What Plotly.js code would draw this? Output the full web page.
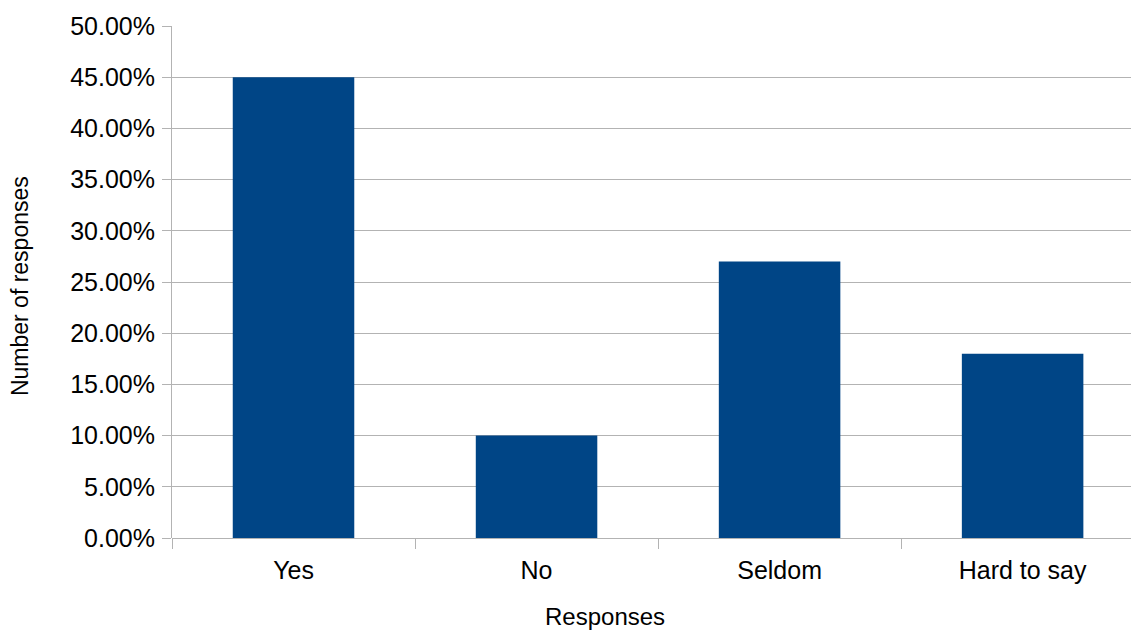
<!DOCTYPE html>
<html>
<head>
<meta charset="utf-8">
<script src="https://cdn.plot.ly/plotly-3.0.1.min.js"></script>
<style>
  html, body { margin: 0; padding: 0; background: #fff; }
  #chart { width: 1131px; height: 630px; }
</style>
</head>
<body>
<div id="chart"></div>
<script>
// Survey answers and their share of all responses
const categories = ["Yes", "No", "Seldom", "Hard to say"];
const shares = [0.45, 0.10, 0.27, 0.18];

// Axis titles
const xTitle = "Responses";
const yTitle = "Number of responses";

const gridGray = "#b3b3b3";
const fontFamily = "Liberation Sans, Arial, sans-serif";

const trace = {
  type: "bar",
  x: categories,
  y: shares,
  marker: { color: "#004586" },
  width: 0.5,
  hoverinfo: "x+y"
};

const layout = {
  width: 1131,
  height: 630,
  margin: { l: 172, r: 0, t: 26, b: 92 },
  paper_bgcolor: "#ffffff",
  plot_bgcolor: "#ffffff",
  showlegend: false,
  font: { family: fontFamily, color: "#000000", size: 25 },
  xaxis: {
    type: "category",
    range: [-0.5, 3.446],
    showgrid: false,
    showline: false,
    zeroline: false,
    ticks: "outside",
    tickson: "boundaries",
    ticklen: 10,
    tickcolor: gridGray,
    tickwidth: 1,
    ticklabelstandoff: 15,
    tickfont: { family: fontFamily, size: 25, color: "#000" }
  },
  yaxis: {
    range: [0, 0.5],
    dtick: 0.05,
    tickformat: ".2%",
    showgrid: true,
    gridcolor: gridGray,
    gridwidth: 1,
    showline: true,
    linecolor: gridGray,
    linewidth: 1,
    zeroline: true,
    zerolinecolor: gridGray,
    zerolinewidth: 1,
    ticks: "outside",
    ticklen: 9,
    tickcolor: gridGray,
    ticklabelstandoff: 2,
    tickfont: { family: fontFamily, size: 25, color: "#000" }
  },
  annotations: [
    {
      text: xTitle,
      xref: "paper", yref: "paper",
      x: 0.4515, y: -0.154,
      xanchor: "center", yanchor: "middle",
      showarrow: false,
      font: { family: fontFamily, size: 24, color: "#000" }
    },
    {
      text: yTitle,
      xref: "paper", yref: "paper",
      x: -0.1585, y: 0.492,
      xanchor: "center", yanchor: "middle",
      textangle: -90,
      showarrow: false,
      font: { family: fontFamily, size: 23, color: "#000" }
    }
  ]
};

Plotly.newPlot("chart", [trace], layout, { displayModeBar: false, staticPlot: true });
</script>
</body>
</html>
